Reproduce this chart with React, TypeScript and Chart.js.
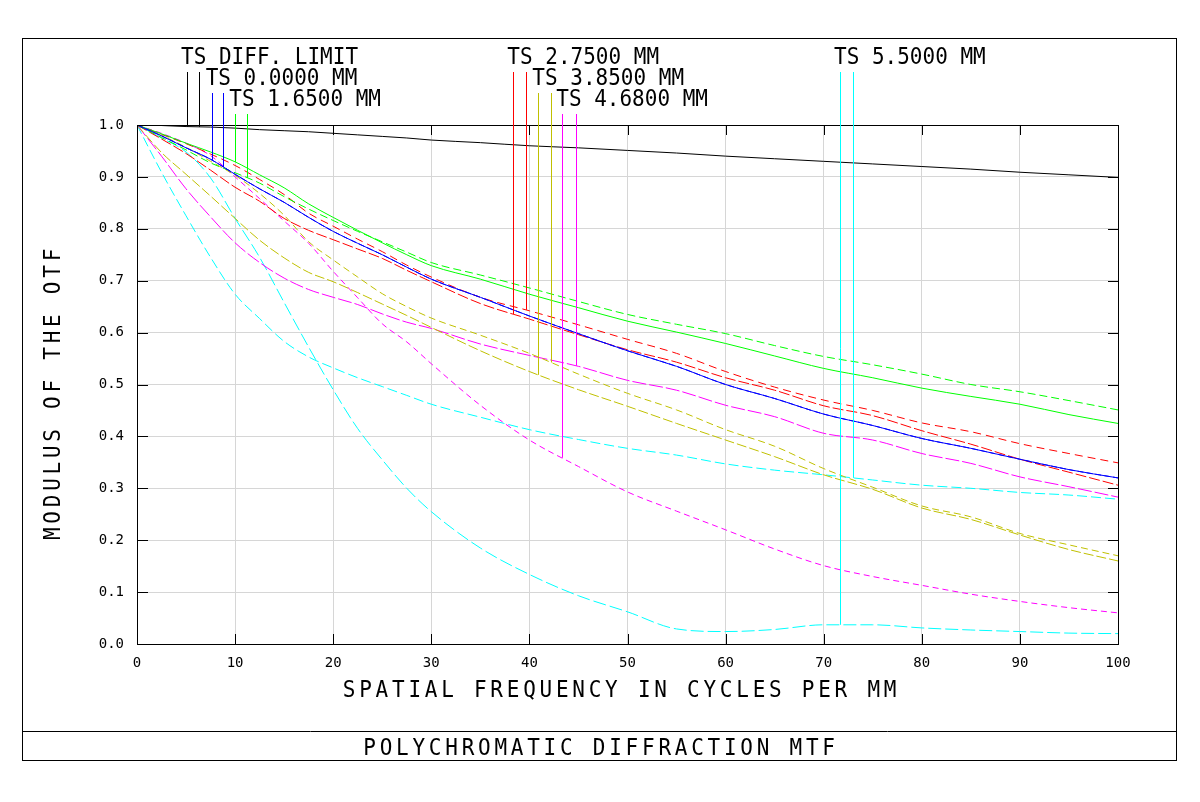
import React, { useEffect, useRef } from "react";
import { Chart, registerables } from "chart.js";

Chart.register(...registerables);

// ---- data ----
const FREQ = [0, 2.5, 5, 7.5, 10, 12.5, 15, 17.5, 20, 22.5, 25, 27.5, 30, 35, 40, 45, 50, 55, 60, 65, 70, 75, 80, 85, 90, 95, 100];

const DIFF_LIMIT = [1.0, 0.999, 0.997, 0.996, 0.994, 0.991, 0.989, 0.987, 0.984, 0.981, 0.978, 0.975, 0.971, 0.966, 0.96, 0.956, 0.951, 0.946, 0.94, 0.935, 0.93, 0.925, 0.92, 0.915, 0.909, 0.904, 0.899];

const F0000_T = [1.0, 0.979, 0.956, 0.934, 0.905, 0.877, 0.851, 0.822, 0.795, 0.772, 0.75, 0.726, 0.703, 0.668, 0.632, 0.598, 0.565, 0.535, 0.5, 0.473, 0.443, 0.421, 0.396, 0.377, 0.356, 0.336, 0.32];
const F0000_S = [1.0, 0.979, 0.956, 0.934, 0.905, 0.877, 0.851, 0.822, 0.795, 0.772, 0.75, 0.726, 0.703, 0.668, 0.632, 0.598, 0.565, 0.535, 0.5, 0.473, 0.443, 0.421, 0.396, 0.377, 0.356, 0.336, 0.32];

const F1650_T = [1.0, 0.983, 0.965, 0.948, 0.929, 0.904, 0.879, 0.848, 0.822, 0.797, 0.773, 0.75, 0.729, 0.703, 0.674, 0.648, 0.622, 0.601, 0.579, 0.555, 0.531, 0.513, 0.493, 0.477, 0.462, 0.442, 0.425];
const F1650_S = [1.0, 0.976, 0.952, 0.927, 0.908, 0.888, 0.862, 0.838, 0.816, 0.795, 0.775, 0.755, 0.735, 0.711, 0.686, 0.66, 0.635, 0.616, 0.598, 0.575, 0.554, 0.538, 0.52, 0.5, 0.486, 0.469, 0.451];

const F2750_T = [1.0, 0.973, 0.945, 0.913, 0.88, 0.853, 0.82, 0.797, 0.779, 0.761, 0.743, 0.72, 0.698, 0.656, 0.626, 0.596, 0.567, 0.543, 0.513, 0.489, 0.459, 0.44, 0.411, 0.385, 0.356, 0.331, 0.306];
const F2750_S = [1.0, 0.982, 0.964, 0.944, 0.922, 0.895, 0.866, 0.83, 0.805, 0.78, 0.756, 0.73, 0.707, 0.668, 0.642, 0.615, 0.587, 0.56, 0.525, 0.495, 0.47, 0.45, 0.426, 0.409, 0.386, 0.367, 0.349];

const F3850_T = [1.0, 0.947, 0.905, 0.863, 0.82, 0.778, 0.744, 0.716, 0.698, 0.677, 0.655, 0.633, 0.61, 0.565, 0.525, 0.49, 0.458, 0.425, 0.393, 0.361, 0.326, 0.298, 0.262, 0.24, 0.21, 0.182, 0.16];
const F3850_S = [1.0, 0.98, 0.957, 0.93, 0.903, 0.868, 0.826, 0.775, 0.74, 0.707, 0.675, 0.65, 0.628, 0.595, 0.56, 0.52, 0.483, 0.451, 0.413, 0.381, 0.338, 0.302, 0.266, 0.245, 0.213, 0.191, 0.17];

const F4680_T = [1.0, 0.984, 0.965, 0.941, 0.9, 0.858, 0.815, 0.772, 0.718, 0.667, 0.617, 0.582, 0.54, 0.46, 0.393, 0.342, 0.293, 0.256, 0.22, 0.183, 0.151, 0.13, 0.113, 0.096, 0.082, 0.07, 0.06];
const F4680_S = [1.0, 0.94, 0.877, 0.823, 0.773, 0.735, 0.705, 0.683, 0.668, 0.654, 0.636, 0.62, 0.608, 0.578, 0.556, 0.535, 0.508, 0.489, 0.46, 0.438, 0.406, 0.393, 0.367, 0.348, 0.322, 0.303, 0.283];

const F5500_T = [1.0, 0.975, 0.948, 0.898, 0.82, 0.745, 0.658, 0.572, 0.49, 0.415, 0.355, 0.3, 0.255, 0.185, 0.134, 0.093, 0.062, 0.029, 0.024, 0.028, 0.037, 0.037, 0.031, 0.027, 0.024, 0.021, 0.02];
const F5500_S = [1.0, 0.909, 0.825, 0.745, 0.674, 0.627, 0.583, 0.553, 0.532, 0.513, 0.496, 0.479, 0.462, 0.437, 0.413, 0.394, 0.377, 0.364, 0.347, 0.335, 0.326, 0.316, 0.306, 0.3, 0.292, 0.287, 0.279];

const LEGEND_LABELS = ["TS DIFF. LIMIT", "TS 0.0000 MM", "TS 1.6500 MM", "TS 2.7500 MM", "TS 3.8500 MM", "TS 4.6800 MM", "TS 5.5000 MM"];
// frequency at which each legend leader line meets its T / S curve
const LEGEND_FREQS = [[5.1, 6.32], [7.61, 8.8], [10.02, 11.24], [38.36, 39.65], [40.91, 42.2], [43.35, 44.72], [71.66, 72.99]];

const Y_TICKS_STEP = 0.1;
const X_TICKS_STEP = 10;

const TITLE = "POLYCHROMATIC DIFFRACTION MTF";
const X_TITLE = "SPATIAL FREQUENCY IN CYCLES PER MM";
const Y_TITLE = "MODULUS OF THE OTF";

// ---- styles ----
const COLORS = ["#000000", "#0000ff", "#00ff00", "#ff0000", "#c0c000", "#ff00ff", "#00ffff"];
const T_VALUES = [DIFF_LIMIT, F0000_T, F1650_T, F2750_T, F3850_T, F4680_T, F5500_T];
const S_VALUES = [DIFF_LIMIT, F0000_S, F1650_S, F2750_S, F3850_S, F4680_S, F5500_S];
const T_DASH = [[], [], [], [11, 3], [10, 3], [6, 4], [13, 4]];
const S_DASH = [[], [6, 3], [8, 4], [8, 5], [7, 4], [14, 3], [10, 4]];

const FONT = "'DejaVu Sans Mono', 'Liberation Mono', monospace";

function valueAt(values: number[], f: number): number {
  for (let i = 0; i < FREQ.length - 1; i++) {
    if (f >= FREQ[i] && f <= FREQ[i + 1]) {
      const t = (f - FREQ[i]) / (FREQ[i + 1] - FREQ[i]);
      return values[i] + t * (values[i + 1] - values[i]);
    }
  }
  return values[values.length - 1];
}

function toPoints(values: number[]) {
  return FREQ.map((f, i) => ({ x: f, y: values[i] }));
}

const px = (v: number) => Math.round(v) + 0.5;

const decorPlugin = {
  id: "decor",
  afterDraw(chart: any) {
    const { ctx, chartArea: a, scales } = chart;
    const xs = scales.x;
    const ys = scales.y;
    const W = chart.width;
    ctx.save();
    ctx.lineWidth = 1;
    ctx.strokeStyle = "#000";
    ctx.fillStyle = "#000";

    // outer frame and title separator
    const fl = 22, fr = W - 24, ft = 38, fb = 760, sep = 731;
    ctx.strokeRect(fl + 0.5, ft + 0.5, fr - fl, fb - ft);
    ctx.beginPath();
    ctx.moveTo(fl, sep + 0.5);
    ctx.lineTo(fr, sep + 0.5);
    ctx.stroke();

    // plot frame
    ctx.strokeRect(px(a.left), px(a.top), Math.round(a.right) - Math.round(a.left), Math.round(a.bottom) - Math.round(a.top));

    // inner tick marks
    ctx.beginPath();
    ys.ticks.forEach((t: any) => {
      const yy = px(ys.getPixelForValue(t.value));
      ctx.moveTo(a.left, yy);
      ctx.lineTo(a.left + 11, yy);
      ctx.moveTo(a.right - 10, yy);
      ctx.lineTo(a.right, yy);
    });
    xs.ticks.forEach((t: any) => {
      const xx = px(xs.getPixelForValue(t.value));
      ctx.moveTo(xx, a.bottom);
      ctx.lineTo(xx, a.bottom - 10);
      ctx.moveTo(xx, a.top);
      ctx.lineTo(xx, a.top + 10);
    });
    ctx.stroke();

    // legend leader lines + labels
    LEGEND_LABELS.forEach((label, gi) => {
      const row = gi % 3;
      const topY = a.top - 53 + 21 * row;
      const [ft0, fs0] = LEGEND_FREQS[gi];
      ctx.strokeStyle = COLORS[gi];
      const pairs: [number, number[]][] = [
        [ft0, T_VALUES[gi]],
        [fs0, S_VALUES[gi]],
      ];
      pairs.forEach(([f, vals]) => {
        const xx = px(xs.getPixelForValue(f));
        const yb = ys.getPixelForValue(valueAt(vals, f));
        ctx.beginPath();
        ctx.moveTo(xx, topY);
        ctx.lineTo(xx, yb);
        ctx.stroke();
      });
      const tx = xs.getPixelForValue(ft0) - 6;
      ctx.save();
      ctx.translate(tx, topY - 8);
      ctx.scale(1, 1.12);
      ctx.font = `21px ${FONT}`;
      ctx.textAlign = "left";
      ctx.textBaseline = "alphabetic";
      ctx.fillStyle = "#000";
      ctx.fillText(label, 0, 0);
      ctx.restore();
    });

    // axis titles and plot title
    const drawSpaced = (text: string, x: number, y: number, rot: number) => {
      ctx.save();
      ctx.translate(x, y);
      ctx.rotate(rot);
      ctx.scale(1, 1.12);
      ctx.font = `21px ${FONT}`;
      (ctx as any).letterSpacing = "3.75px";
      ctx.textAlign = "center";
      ctx.textBaseline = "alphabetic";
      ctx.fillStyle = "#000";
      ctx.fillText(text, 0, 0);
      ctx.restore();
    };
    drawSpaced(X_TITLE, (a.left + a.right) / 2 - 6, a.bottom + 53, 0);
    drawSpaced(Y_TITLE, a.left - 77, (a.top + a.bottom) / 2 + 8, -Math.PI / 2);
    drawSpaced(TITLE, (fl + fr) / 2 + 2, sep + 24, 0);

    ctx.restore();
  },
};

export default function App() {
  const ref = useRef<HTMLCanvasElement | null>(null);

  useEffect(() => {
    if (!ref.current) return;
    document.body.style.margin = "0";
    document.body.style.background = "#ffffff";

    const datasets: any[] = [];
    COLORS.forEach((c, gi) => {
      datasets.push({
        data: toPoints(T_VALUES[gi]),
        borderColor: c,
        borderWidth: 1,
        borderDash: T_DASH[gi],
        pointRadius: 0,
        cubicInterpolationMode: "monotone",
        fill: false,
      });
      if (gi > 0) {
        datasets.push({
          data: toPoints(S_VALUES[gi]),
          borderColor: c,
          borderWidth: 1,
          borderDash: S_DASH[gi],
          pointRadius: 0,
          cubicInterpolationMode: "monotone",
          fill: false,
        });
      }
    });

    const chart = new Chart(ref.current, {
      type: "line",
      data: { datasets },
      options: {
        animation: false,
        responsive: false,
        devicePixelRatio: 1,
        events: [],
        layout: { padding: { left: 0, top: 125, right: 82, bottom: 0 } },
        plugins: { legend: { display: false }, tooltip: { enabled: false } },
        scales: {
          x: {
            type: "linear",
            min: 0,
            max: 100,
            afterFit: (s: any) => {
              s.height = 158;
            },
            ticks: {
              stepSize: X_TICKS_STEP,
              autoSkip: false,
              maxRotation: 0,
              color: "#000",
              padding: 11,
              font: { family: FONT, size: 14 },
              callback: (v: any) => String(Math.round(Number(v))),
            },
            grid: { color: "#d6d6d6", lineWidth: 1, drawTicks: false },
            border: { display: true, color: "#000", width: 1 },
          },
          y: {
            type: "linear",
            min: 0,
            max: 1,
            afterFit: (s: any) => {
              s.width = 137;
            },
            ticks: {
              stepSize: Y_TICKS_STEP,
              color: "#000",
              padding: 13,
              font: { family: FONT, size: 14 },
              callback: (v: any) => Number(v).toFixed(1),
            },
            grid: { color: "#d6d6d6", lineWidth: 1, drawTicks: false },
            border: { display: true, color: "#000", width: 1 },
          },
        },
      },
      plugins: [decorPlugin],
    });

    return () => chart.destroy();
  }, []);

  return (
    <canvas
      ref={ref}
      width={1200}
      height={802}
      style={{ position: "absolute", left: 0, top: 0, width: 1200, height: 802 }}
    />
  );
}
